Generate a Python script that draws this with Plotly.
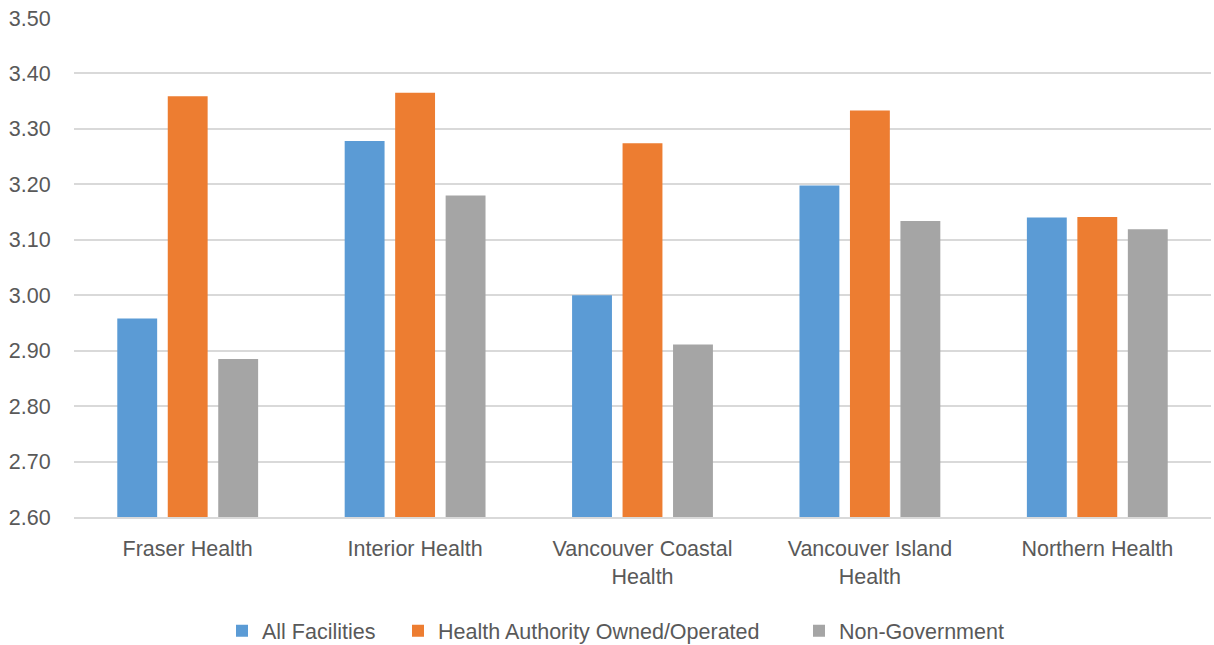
import plotly.graph_objects as go

categories = ["Fraser Health", "Interior Health", "Vancouver Coastal<br>Health",
              "Vancouver Island<br>Health", "Northern Health"]
all_facilities = [2.958, 3.278, 3.000, 3.198, 3.140]
ha_owned = [3.359, 3.365, 3.274, 3.333, 3.141]
non_gov = [2.885, 3.180, 2.911, 3.134, 3.119]
y_ticks = [2.6, 2.7, 2.8, 2.9, 3.0, 3.1, 3.2, 3.3, 3.4, 3.5]

series = [
    ("All Facilities", all_facilities, "#5B9BD5", "legend"),
    ("Health Authority Owned/Operated", ha_owned, "#ED7D31", "legend2"),
    ("Non-Government", non_gov, "#A5A5A5", "legend3"),
]

fig = go.Figure()
for name, vals, color, leg in series:
    fig.add_trace(go.Bar(x=categories, y=vals, name=name, legend=leg,
                         marker=dict(color=color, line=dict(width=0))))

font_family = "Liberation Sans, Arial, sans-serif"
fs = 21.5


def legend_at(px_left):
    return dict(orientation="h", xref="container", x=(px_left - 14) / 1214,
                xanchor="left", yref="container", y=0.022, yanchor="middle",
                font=dict(size=fs, color="#595959"), itemwidth=30,
                bgcolor="rgba(0,0,0,0)")


fig.update_layout(
    width=1214, height=645,
    margin=dict(l=74, r=3, t=18, b=128),
    paper_bgcolor="white", plot_bgcolor="white",
    barmode="group", bargap=0.334, bargroupgap=0.21,
    font=dict(family=font_family, size=fs, color="#595959"),
    showlegend=True,
    legend=legend_at(236),
    legend2=legend_at(412),
    legend3=legend_at(813),
    xaxis=dict(showgrid=False, showline=True, linecolor="#D9D9D9", linewidth=1.5,
               ticks="outside", ticklen=11, tickcolor="rgba(0,0,0,0)",
               tickfont=dict(size=fs, color="#595959"), automargin=False),
    yaxis=dict(range=[2.6, 3.5], tickvals=y_ticks, tickformat=".2f",
               showgrid=True, gridcolor="#D9D9D9", gridwidth=1.5,
               zeroline=False, showline=False,
               ticks="outside", ticklen=18, tickcolor="rgba(0,0,0,0)",
               tickfont=dict(size=fs, color="#595959"), automargin=False),
)
fig.write_html("out.html")
